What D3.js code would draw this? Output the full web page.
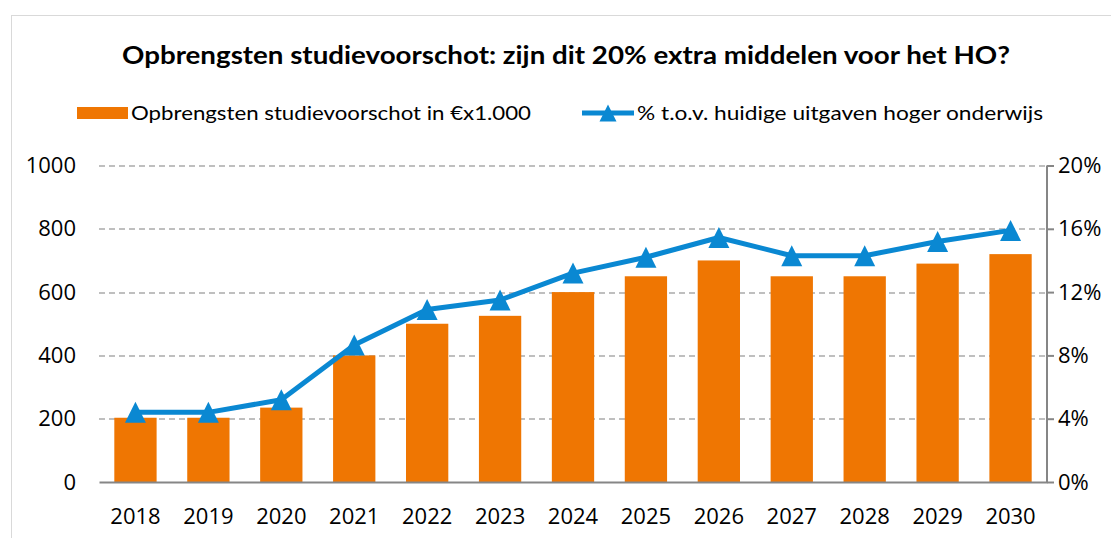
<!DOCTYPE html>
<html>
<head>
<meta charset="utf-8">
<script src="https://cdn.jsdelivr.net/npm/d3@7"></script>
<style>
  body { margin: 0; background: #fff; }
  svg { font-family: Lato, "Open Sans", sans-serif; }
</style>
</head>
<body>
<svg id="chart"></svg>
<script>
// chart data
const years = ["2018", "2019", "2020", "2021", "2022", "2023", "2024", "2025", "2026", "2027", "2028", "2029", "2030"];
const revenue = [203, 203, 235, 400, 500, 525, 600, 650, 700, 650, 650, 690, 720];
const percent = [0.044, 0.044, 0.052, 0.0865, 0.109, 0.115, 0.132, 0.142, 0.1545, 0.143, 0.143, 0.152, 0.159];
const leftTicks = [0, 200, 400, 600, 800, 1000];
const rightTicks = [0, 0.04, 0.08, 0.12, 0.16, 0.2];

const titleText = "Opbrengsten studievoorschot: zijn dit 20%  extra middelen voor het HO?";
const barLabel = "Opbrengsten studievoorschot in €x1.000";
const lineLabel = "% t.o.v. huidige uitgaven hoger onderwijs";

const W = 1111, H = 538;
const margin = { top: 165.5, right: 64, bottom: 56, left: 99 };
const width = W - margin.left - margin.right;
const height = H - margin.top - margin.bottom;

const barColor = "#ef7602";
const lineColor = "#0a88d2";
const gridColor = "#bfbfbf";
const axisColor = "#868686";
const tickFont = "'Open Sans'";
const tickSize = 22;

const svg = d3.select("#chart").attr("width", W).attr("height", H);

// outer chart frame
svg.append("rect")
  .attr("x", 11.5).attr("y", 15.5)
  .attr("width", W + 20).attr("height", H + 20)
  .attr("fill", "none").attr("stroke", "#d9d9d9");

svg.append("text")
  .attr("x", 122).attr("y", 64)
  .attr("textLength", 888).attr("lengthAdjust", "spacingAndGlyphs")
  .attr("font-size", 25).attr("font-weight", "bold")
  .attr("fill", "#000")
  .text(titleText);

const g = svg.append("g").attr("transform", `translate(${margin.left},${margin.top})`);

const x = d3.scaleBand().domain(years).range([0, width]).paddingInner(0.42).paddingOuter(0.21);
const y = d3.scaleLinear().domain([0, 1000]).range([height, 0]);
const y2 = d3.scaleLinear().domain([0, 0.2]).range([height, 0]);

// gridlines
g.append("g")
  .selectAll("line")
  .data(leftTicks.slice(1))
  .join("line")
  .attr("x1", 0).attr("x2", width)
  .attr("y1", (d) => Math.round(y(d)) + 0.5)
  .attr("y2", (d) => Math.round(y(d)) + 0.5)
  .attr("stroke", gridColor).attr("stroke-width", 2)
  .attr("stroke-dasharray", "6,4");

// left axis: labels only
const leftAxis = g.append("g")
  .call(d3.axisLeft(y).tickValues(leftTicks).tickFormat(d3.format("d")).tickSize(0).tickPadding(23));
leftAxis.select(".domain").remove();
leftAxis.selectAll("text").attr("font-size", tickSize).attr("font-family", tickFont).attr("fill", "#000");

// right axis
const rightAxis = g.append("g")
  .attr("transform", `translate(${width},0)`)
  .call(d3.axisRight(y2).tickValues(rightTicks).tickFormat(d3.format(".0%")).tickSize(7).tickPadding(4));
rightAxis.select(".domain").attr("stroke", axisColor).attr("stroke-width", 2).attr("d", `M0,0V${height}`);
rightAxis.selectAll(".tick line").attr("stroke", axisColor).attr("stroke-width", 2);
rightAxis.selectAll("text").attr("font-size", tickSize).attr("font-family", tickFont).attr("fill", "#000");

// bars
g.selectAll(".bar")
  .data(years)
  .join("rect")
  .attr("class", "bar")
  .attr("x", (d) => x(d))
  .attr("y", (d, i) => y(revenue[i]))
  .attr("width", x.bandwidth())
  .attr("height", (d, i) => height - y(revenue[i]))
  .attr("fill", barColor);

// bottom axis
const bottomAxis = g.append("g")
  .attr("transform", `translate(0,${height})`)
  .call(d3.axisBottom(x).tickSize(0).tickPadding(26));
bottomAxis.select(".domain").attr("stroke", axisColor).attr("stroke-width", 2);
bottomAxis.selectAll("text").attr("font-size", tickSize).attr("font-family", tickFont).attr("fill", "#000");

// line + triangle markers
const cx = (d) => x(d) + x.bandwidth() / 2;
const line = d3.line().x((d, i) => cx(years[i])).y((d) => y2(d));
g.append("path")
  .datum(percent)
  .attr("d", line)
  .attr("fill", "none")
  .attr("stroke", lineColor)
  .attr("stroke-width", 5)
  .attr("stroke-linejoin", "round");

const tri = (s) => `M0,${-s / 2}L${s / 2},${s / 2}L${-s / 2},${s / 2}Z`;
g.selectAll(".marker")
  .data(percent)
  .join("path")
  .attr("class", "marker")
  .attr("transform", (d, i) => `translate(${cx(years[i])},${y2(d)})`)
  .attr("d", tri(21))
  .attr("fill", lineColor);

// legend
const legend = svg.append("g").attr("font-size", 20).attr("fill", "#000");
legend.append("rect")
  .attr("x", 77).attr("y", 107).attr("width", 51).attr("height", 12)
  .attr("fill", barColor);
legend.append("text").attr("x", 131).attr("y", 120)
  .attr("textLength", 400).attr("lengthAdjust", "spacingAndGlyphs")
  .text(barLabel);
legend.append("line")
  .attr("x1", 582).attr("x2", 634).attr("y1", 113).attr("y2", 113)
  .attr("stroke", lineColor).attr("stroke-width", 5);
legend.append("path")
  .attr("transform", "translate(608,113)")
  .attr("d", tri(17))
  .attr("fill", lineColor);
legend.append("text").attr("x", 637).attr("y", 120)
  .attr("textLength", 406).attr("lengthAdjust", "spacingAndGlyphs")
  .text(lineLabel);
</script>
</body>
</html>
